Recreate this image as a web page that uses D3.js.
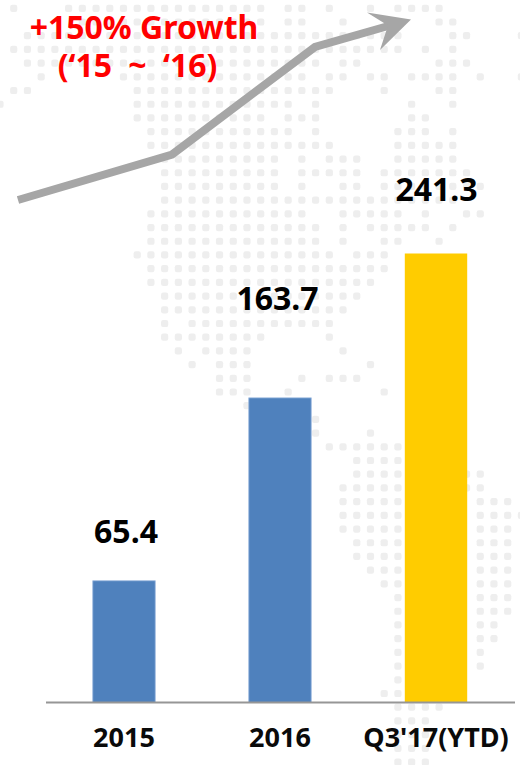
<!DOCTYPE html>
<html>
<head>
<meta charset="utf-8">
<script src="https://cdn.jsdelivr.net/npm/d3@7"></script>
<style>
  html, body { margin: 0; padding: 0; background: #fff; }
  svg { display: block; }
  text { font-family: "Noto Sans", "Open Sans", sans-serif; font-weight: 700; }
</style>
</head>
<body>
<svg id="chart" width="520" height="765"></svg>
<script>
// Revenue by period
const categories = ["2015", "2016", "Q3'17(YTD)"];
const values = [65.4, 163.7, 241.3];
const barColors = ["#4f81bd", "#4f81bd", "#ffcc00"];
const barEdges = ["#94b3dc", "#94b3dc", "none"];
const labelGaps = [38, 88, 53];
const labelNudges = [2, -2.5, 0.5];
const headline = ["+150% Growth", "(\u201815 ~ \u201816)"];
const headlineCentres = [144, 137.5];
const headlineWordGaps = [0, 8];

// Trend arrow running above the bars
const trendPoints = [[18, 200], [172, 154.5], [315, 47], [390, 25.5]];
const trendTip = [[411, 19.5], [367, 12.5], [388, 25.5], [380, 50]];

// Dotted world-map backdrop: occupied columns for each row of the grid
const mapRows = [
  "1,5-19,21-22,24,27,29-32",
  "6-19,21-22,25,32-33",
  "2-29,33-34,38",
  "1-29,31,33",
  "2-23,25-26,32-34",
  "3,9-22,24-25,27-28,30-33,35,38",
  "1-2,10-24,28,32-33",
  "0,10-21,23,30,33",
  "10-19,21-23,30-31",
  "11-21,23,29-31,33",
  "11-24,29-33",
  "12-20,22,24-26,29-33",
  "12-20,22-26,28-34",
  "12-20,22,25-26,28-35",
  "12-28,29-33",
  "11-22,25-29,31,34-35",
  "11-23,25,27-31,33",
  "11-23,25,28-29,32",
  "10-24,26-28",
  "11-28",
  "11-27",
  "12-26",
  "12-25",
  "12,14-24",
  "12-19,24",
  "13,15-18,25",
  "14,16-18,27",
  "16-18,22,24-26",
  "16-18,21,28",
  "18",
  "23",
  "23,27",
  "24-29",
  "26-29",
  "26-29,34-35",
  "25-29,34-35",
  "25-29,35-37",
  "25-29,35-38",
  "25-29,35-37",
  "26-29,35-37",
  "26-29,35-37",
  "27-29,35-37",
  "28-29,35-37",
  "29,35-37",
  "29,35-37",
  "29,35-36",
  "29,35-36",
  "29,35",
  "29,35",
  "29",
  "28-29",
  "29-32",
  "29-31",
  "29-31",
  "29-31",
  "29-31"
];

const svg = d3.select("#chart");

// Expand "a-b,c" column lists into individual grid cells
const mapCells = mapRows.flatMap((spec, row) =>
  spec.split(",").flatMap(part => {
    const [a, b = a] = part.split("-").map(Number);
    return d3.range(a, b + 1).map(col => ({ row, col }));
  })
);

const colX = d3.scaleLinear().domain([0, 38]).range([0, 521.4]);
const rowY = d3.scaleLinear().domain([0, 55]).range([8.3, 762]);

svg.append("g").selectAll("rect").data(mapCells).join("rect")
  .attr("x", d => colX(d.col) - 3.6)
  .attr("y", d => rowY(d.row) - 3.6)
  .attr("width", 7.2)
  .attr("height", 7.2)
  .attr("rx", 2.2)
  .attr("fill", "#eeeeee");

// Scales for the bars
const x = d3.scaleBand().domain(categories).range([46, 514]).paddingInner(0.6).paddingOuter(0.3);
const y = d3.scaleLinear().domain([0, 241.3]).range([702.5, 253.5]);

const rows = categories.map((category, i) => ({
  category, value: values[i], color: barColors[i], edge: barEdges[i],
  gap: labelGaps[i], nudge: labelNudges[i]
}));

svg.append("g").selectAll("rect").data(rows).join("rect")
  .attr("x", d => x(d.category))
  .attr("y", d => y(d.value))
  .attr("width", x.bandwidth())
  .attr("height", d => y(0) - y(d.value))
  .attr("fill", d => d.color)
  .attr("stroke", d => d.edge)
  .attr("stroke-width", 0.8);

// Baseline and category labels come from the band axis
const axis = svg.append("g")
  .attr("transform", `translate(0,${y(0)})`)
  .call(d3.axisBottom(x).tickSize(0).tickPadding(25));
axis.select(".domain").attr("stroke", "#969696").attr("stroke-width", 2).attr("d", "M46,0H515");
axis.selectAll("text")
  .attr("font-size", 27)
  .attr("fill", "#0a0a0a")
  .style("font-family", '"Noto Sans", sans-serif')
  .style("font-weight", 700);

// Value labels above each bar
svg.append("g").selectAll("text").data(rows).join("text")
  .attr("x", d => x(d.category) + x.bandwidth() / 2 + d.nudge)
  .attr("y", d => y(d.value) - d.gap)
  .attr("text-anchor", "middle")
  .attr("font-size", 32)
  .attr("fill", "#000")
  .text(d => d.value.toFixed(1));

// Growth arrow: shaft plus a swept arrowhead
svg.append("path")
  .attr("d", d3.line()(trendPoints))
  .attr("fill", "none")
  .attr("stroke", "#a6a6a6")
  .attr("stroke-width", 8)
  .attr("stroke-linejoin", "miter");
svg.append("path")
  .attr("d", d3.line()(trendTip) + "Z")
  .attr("fill", "#a6a6a6");

// Two-line headline over the arrow
svg.append("text")
  .attr("text-anchor", "middle")
  .attr("font-size", 32)
  .attr("fill", "#ff0000")
  .selectAll("tspan").data(headline).join("tspan")
  .attr("x", (d, i) => headlineCentres[i])
  .attr("y", (d, i) => 38.5 + i * 38.5)
  .attr("word-spacing", (d, i) => headlineWordGaps[i])
  .text(d => d);
</script>
</body>
</html>
